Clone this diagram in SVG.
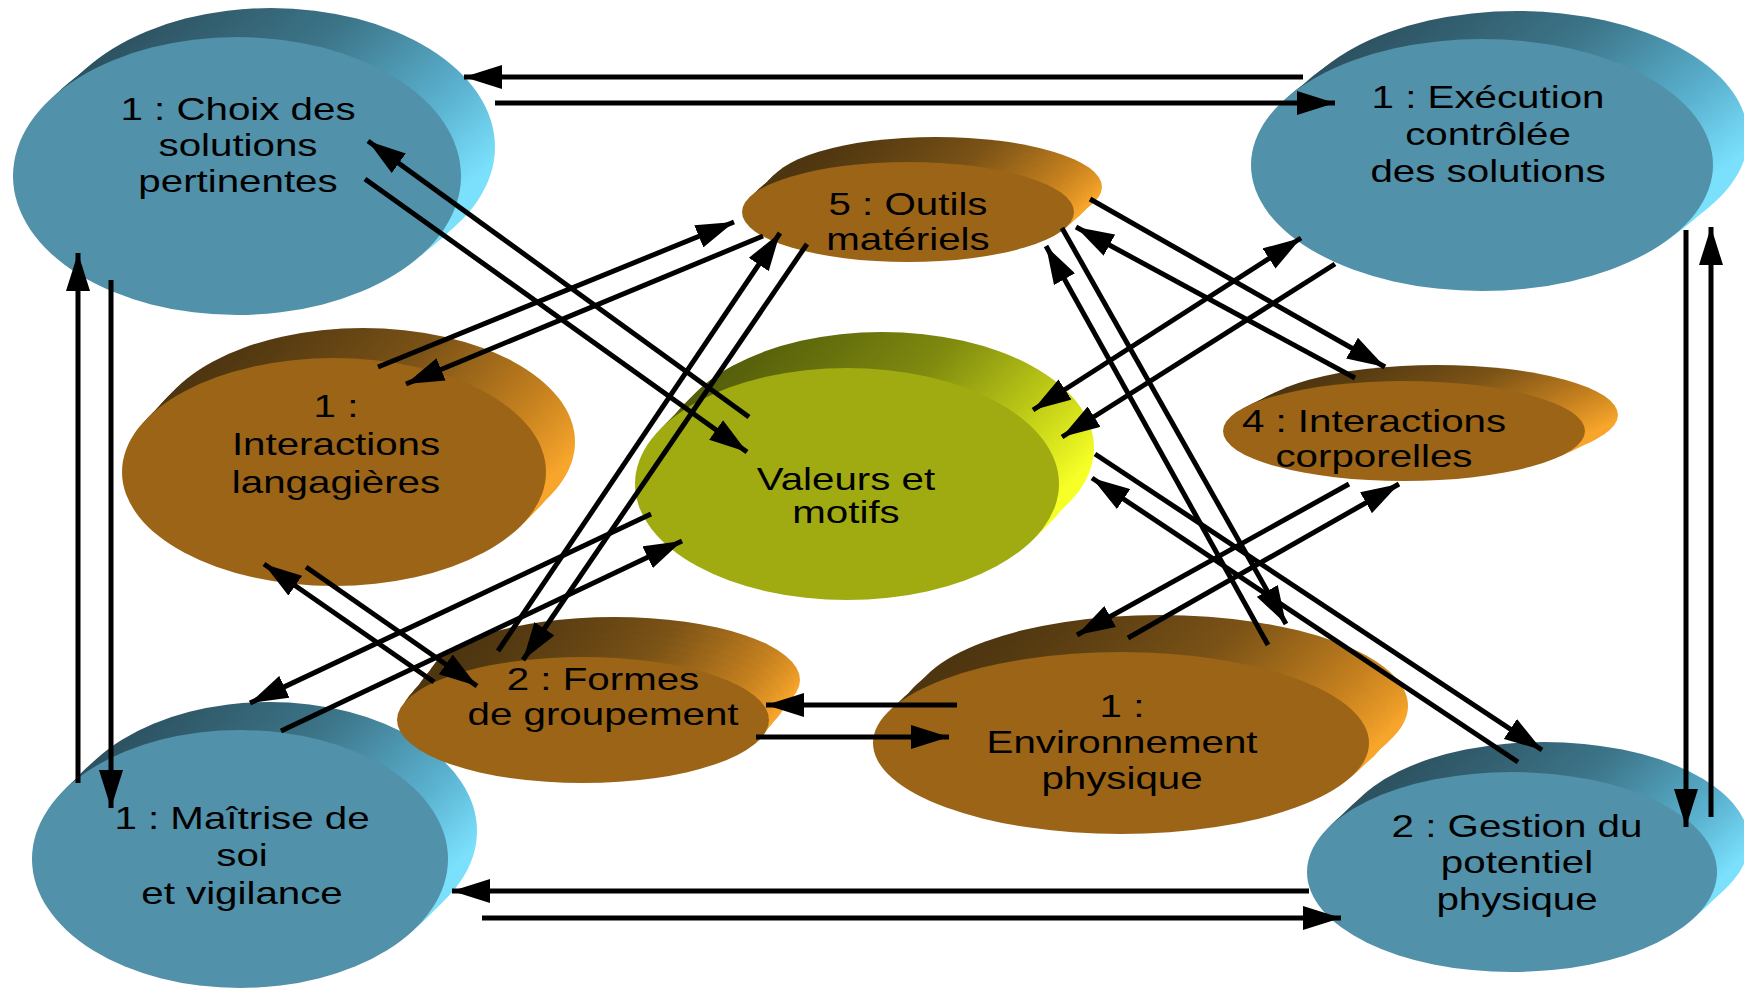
<svg xmlns="http://www.w3.org/2000/svg" width="1744" height="990" viewBox="0 0 1744 990">
<defs>
<linearGradient id="gB" x1="0.15" y1="0" x2="1" y2="0.55">
<stop offset="0" stop-color="#2a4c5a"/><stop offset="0.45" stop-color="#3c7488"/><stop offset="0.8" stop-color="#5bb3d1"/><stop offset="1" stop-color="#7ae0fc"/>
</linearGradient>
<linearGradient id="gO" x1="0.15" y1="0" x2="1" y2="0.55">
<stop offset="0" stop-color="#45300f"/><stop offset="0.45" stop-color="#7a5216"/><stop offset="0.8" stop-color="#c9831f"/><stop offset="1" stop-color="#f7a52b"/>
</linearGradient>
<linearGradient id="gY" x1="0.15" y1="0" x2="1" y2="0.55">
<stop offset="0" stop-color="#4e560a"/><stop offset="0.45" stop-color="#7f8a0f"/><stop offset="0.8" stop-color="#c9d618"/><stop offset="1" stop-color="#f6ff26"/>
</linearGradient>
<marker id="ah" markerUnits="userSpaceOnUse" markerWidth="38" markerHeight="24" refX="38" refY="12" orient="auto-start-reverse">
<path d="M0,0 L38,12 L0,24 z" fill="#000"/>
</marker>
<style>
.fb{fill:#5191a9}
.fo{fill:#9b6417}
.fy{fill:#a0ab12}
.sb{fill:url(#gB)}
.so{fill:url(#gO)}
.sy{fill:url(#gY)}
text{font-family:"Liberation Sans",Arial,sans-serif;font-size:31px;fill:#000;text-anchor:middle}
.c line{stroke:#000;stroke-width:5;fill:none}
.c .a{marker-end:url(#ah)}
.c .d{marker-start:url(#ah);marker-end:url(#ah)}
</style>
</defs>
<rect width="1744" height="990" fill="#fff"/>

<g id="n-choix">
<g class="sb"><ellipse cx="271" cy="147" rx="224" ry="139"/><ellipse cx="265" cy="152" rx="224" ry="139"/><ellipse cx="260" cy="157" rx="224" ry="139"/><ellipse cx="254" cy="162" rx="224" ry="139"/><ellipse cx="248" cy="166" rx="224" ry="139"/><ellipse cx="243" cy="171" rx="224" ry="139"/></g>
<ellipse class="fb" cx="237" cy="176" rx="224" ry="139"/>
<text transform="translate(238 0) scale(1.3 1)"><tspan x="0" y="120">1 : Choix des</tspan><tspan x="0" y="156">solutions</tspan><tspan x="0" y="192">pertinentes</tspan></text>
</g>

<g id="n-execution">
<g class="sb"><ellipse cx="1517" cy="137" rx="231" ry="126"/><ellipse cx="1511" cy="142" rx="231" ry="126"/><ellipse cx="1505" cy="146" rx="231" ry="126"/><ellipse cx="1500" cy="151" rx="231" ry="126"/><ellipse cx="1494" cy="156" rx="231" ry="126"/><ellipse cx="1488" cy="160" rx="231" ry="126"/></g>
<ellipse class="fb" cx="1482" cy="165" rx="231" ry="126"/>
<text transform="translate(1488 0) scale(1.3 1)"><tspan x="0" y="108">1 : Exécution</tspan><tspan x="0" y="145">contrôlée</tspan><tspan x="0" y="182">des solutions</tspan></text>
</g>

<g id="n-maitrise">
<g class="sb"><ellipse cx="269" cy="831" rx="208" ry="129"/><ellipse cx="264" cy="836" rx="208" ry="129"/><ellipse cx="259" cy="840" rx="208" ry="129"/><ellipse cx="255" cy="845" rx="208" ry="129"/><ellipse cx="250" cy="850" rx="208" ry="129"/><ellipse cx="245" cy="854" rx="208" ry="129"/></g>
<ellipse class="fb" cx="240" cy="859" rx="208" ry="129"/>
<text transform="translate(242 0) scale(1.3 1)"><tspan x="0" y="829">1 : Maîtrise de</tspan><tspan x="0" y="866">soi</tspan><tspan x="0" y="904">et vigilance</tspan></text>
</g>

<g id="n-gestion">
<g class="sb"><ellipse cx="1544" cy="842" rx="205" ry="100"/><ellipse cx="1539" cy="847" rx="205" ry="100"/><ellipse cx="1533" cy="852" rx="205" ry="100"/><ellipse cx="1528" cy="857" rx="205" ry="100"/><ellipse cx="1523" cy="862" rx="205" ry="100"/><ellipse cx="1517" cy="867" rx="205" ry="100"/></g>
<ellipse class="fb" cx="1512" cy="872" rx="205" ry="100"/>
<text transform="translate(1517 0) scale(1.3 1)"><tspan x="0" y="837">2 : Gestion du</tspan><tspan x="0" y="873">potentiel</tspan><tspan x="0" y="910">physique</tspan></text>
</g>

<g id="n-outils">
<g class="so"><ellipse cx="936" cy="187" rx="166" ry="50"/><ellipse cx="931" cy="191" rx="166" ry="50"/><ellipse cx="927" cy="195" rx="166" ry="50"/><ellipse cx="922" cy="200" rx="166" ry="50"/><ellipse cx="917" cy="204" rx="166" ry="50"/><ellipse cx="913" cy="208" rx="166" ry="50"/></g>
<ellipse class="fo" cx="908" cy="212" rx="166" ry="50"/>
<text transform="translate(908 0) scale(1.3 1)"><tspan x="0" y="215">5 : Outils</tspan><tspan x="0" y="250">matériels</tspan></text>
</g>

<g id="n-valeurs">
<g class="sy"><ellipse cx="882" cy="448" rx="212" ry="116"/><ellipse cx="876" cy="454" rx="212" ry="116"/><ellipse cx="870" cy="460" rx="212" ry="116"/><ellipse cx="865" cy="466" rx="212" ry="116"/><ellipse cx="859" cy="472" rx="212" ry="116"/><ellipse cx="853" cy="478" rx="212" ry="116"/></g>
<ellipse class="fy" cx="847" cy="484" rx="212" ry="116"/>
<text transform="translate(846 0) scale(1.3 1)"><tspan x="0" y="490">Valeurs et</tspan><tspan x="0" y="523">motifs</tspan></text>
</g>

<g id="n-langagieres">
<g class="so"><ellipse cx="363" cy="442" rx="212" ry="114"/><ellipse cx="358" cy="447" rx="212" ry="114"/><ellipse cx="353" cy="452" rx="212" ry="114"/><ellipse cx="349" cy="457" rx="212" ry="114"/><ellipse cx="344" cy="462" rx="212" ry="114"/><ellipse cx="339" cy="467" rx="212" ry="114"/></g>
<ellipse class="fo" cx="334" cy="472" rx="212" ry="114"/>
<text transform="translate(336 0) scale(1.3 1)"><tspan x="0" y="417">1 :</tspan><tspan x="0" y="455">Interactions</tspan><tspan x="0" y="493">langagières</tspan></text>
</g>

<g id="n-corporelles">
<g class="so"><ellipse cx="1437" cy="415" rx="181" ry="50"/><ellipse cx="1432" cy="418" rx="181" ry="50"/><ellipse cx="1426" cy="420" rx="181" ry="50"/><ellipse cx="1421" cy="423" rx="181" ry="50"/><ellipse cx="1415" cy="426" rx="181" ry="50"/><ellipse cx="1410" cy="428" rx="181" ry="50"/></g>
<ellipse class="fo" cx="1404" cy="431" rx="181" ry="50"/>
<text transform="translate(1374 0) scale(1.3 1)"><tspan x="0" y="432">4 : Interactions</tspan><tspan x="0" y="467">corporelles</tspan></text>
</g>

<g id="n-formes">
<g class="so"><ellipse cx="614" cy="680" rx="186" ry="63"/><ellipse cx="609" cy="687" rx="186" ry="63"/><ellipse cx="604" cy="693" rx="186" ry="63"/><ellipse cx="599" cy="700" rx="186" ry="63"/><ellipse cx="593" cy="707" rx="186" ry="63"/><ellipse cx="588" cy="713" rx="186" ry="63"/></g>
<ellipse class="fo" cx="583" cy="720" rx="186" ry="63"/>
<text transform="translate(603 0) scale(1.3 1)"><tspan x="0" y="690">2 : Formes</tspan><tspan x="0" y="725">de groupement</tspan></text>
</g>

<g id="n-environnement">
<g class="so"><ellipse cx="1160" cy="706" rx="248" ry="91"/><ellipse cx="1154" cy="712" rx="248" ry="91"/><ellipse cx="1147" cy="718" rx="248" ry="91"/><ellipse cx="1141" cy="725" rx="248" ry="91"/><ellipse cx="1134" cy="731" rx="248" ry="91"/><ellipse cx="1128" cy="737" rx="248" ry="91"/></g>
<ellipse class="fo" cx="1121" cy="743" rx="248" ry="91"/>
<text transform="translate(1122 0) scale(1.3 1)"><tspan x="0" y="717">1 :</tspan><tspan x="0" y="753">Environnement</tspan><tspan x="0" y="789">physique</tspan></text>
</g>

<g id="connectors" class="c">
<line class="a" x1="1303" y1="77" x2="464" y2="77"/>
<line class="a" x1="495" y1="103" x2="1335" y2="103"/>
<line class="a" x1="1309" y1="891" x2="452" y2="891"/>
<line class="a" x1="482" y1="918" x2="1341" y2="918"/>
<line class="a" x1="78" y1="783" x2="78" y2="253"/>
<line class="a" x1="111" y1="280" x2="111" y2="808"/>
<line class="a" x1="1686" y1="230" x2="1686" y2="827"/>
<line class="a" x1="1711" y1="817" x2="1711" y2="227"/>
<line class="a" x1="749" y1="417" x2="368" y2="141"/>
<line class="a" x1="365" y1="179" x2="747" y2="452"/>
<line class="a" x1="378" y1="367" x2="734" y2="222"/>
<line class="a" x1="763" y1="236" x2="406" y2="384"/>
<line class="a" x1="498" y1="651" x2="780" y2="233"/>
<line class="a" x1="807" y1="244" x2="523" y2="660"/>
<line class="a" x1="306" y1="567" x2="477" y2="686"/>
<line class="a" x1="434" y1="682" x2="264" y2="564"/>
<line class="a" x1="651" y1="514" x2="250" y2="703"/>
<line class="a" x1="281" y1="731" x2="682" y2="541"/>
<line class="d" x1="1033" y1="410" x2="1301" y2="238"/>
<line class="a" x1="1335" y1="264" x2="1062" y2="437"/>
<line class="a" x1="1090" y1="199" x2="1385" y2="367"/>
<line class="a" x1="1355" y1="378" x2="1076" y2="227"/>
<line class="a" x1="1268" y1="645" x2="1046" y2="246"/>
<line class="a" x1="1062" y1="228" x2="1286" y2="624"/>
<line class="a" x1="1349" y1="484" x2="1077" y2="635"/>
<line class="a" x1="1128" y1="638" x2="1399" y2="484"/>
<line class="a" x1="1095" y1="454" x2="1542" y2="750"/>
<line class="a" x1="1518" y1="762" x2="1092" y2="478"/>
<line class="a" x1="957" y1="705" x2="766" y2="705"/>
<line class="a" x1="756" y1="737" x2="949" y2="737"/>
</g>
</svg>
